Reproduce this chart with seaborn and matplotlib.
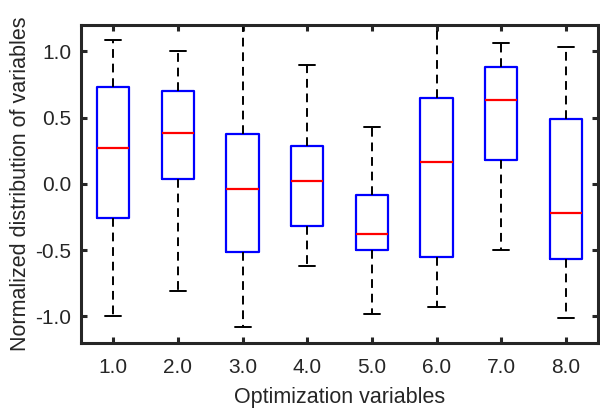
import numpy as np
import pandas as pd
import matplotlib
matplotlib.use("Agg")
import matplotlib.pyplot as plt
import seaborn as sns

# Five-number summaries (one entry per variable)
variables = ["1.0", "2.0", "3.0", "4.0", "5.0", "6.0", "7.0", "8.0"]
whisker_low = [-1.00, -0.81, -1.08, -0.62, -0.98, -0.925, -0.50, -1.015]
q1 = [-0.255, 0.04, -0.51, -0.32, -0.50, -0.55, 0.18, -0.565]
median = [0.27, 0.385, -0.035, 0.02, -0.38, 0.165, 0.63, -0.22]
q3 = [0.735, 0.70, 0.38, 0.29, -0.08, 0.65, 0.885, 0.49]
whisker_high = [1.09, 1.00, 1.30, 0.895, 0.43, 1.30, 1.06, 1.03]

rows = []
for i, v in enumerate(variables):
    for val in (whisker_low[i], q1[i], median[i], q3[i], whisker_high[i]):
        rows.append({"variable": v, "value": val})
df = pd.DataFrame(rows)

sns.set_style("ticks")
plt.rcParams["font.family"] = ["Liberation Sans", "DejaVu Sans"]
plt.rcParams["axes.unicode_minus"] = False

dark = "#262626"
fig = plt.figure(figsize=(6.0, 4.12), dpi=100)
ax = fig.add_axes([0.135, 0.1675, 0.862, 0.772])

sns.boxplot(data=df, x="variable", y="value", order=variables, ax=ax,
            width=0.5, fill=False, whis=(0, 100), showfliers=False,
            linewidth=1.3,
            boxprops=dict(color="blue", linewidth=1.6),
            medianprops=dict(color="red", linewidth=1.6),
            whiskerprops=dict(color="black", linewidth=1.4, linestyle=(0, (4.5, 3))),
            capprops=dict(color="black", linewidth=1.4))

ax.set_xlim(-0.5, 7.5)
ax.set_ylim(-1.2, 1.2)
ax.set_yticks([-1.0, -0.5, 0.0, 0.5, 1.0])
ax.set_yticklabels(["-1.0", "-0.5", "0.0", "0.5", "1.0"])

for side in ["left", "right", "top", "bottom"]:
    ax.spines[side].set_visible(True)
    ax.spines[side].set_color(dark)
    ax.spines[side].set_linewidth(2.2)

ax.tick_params(direction="in", length=4, width=2.2, color=dark,
               top=True, right=True, labelsize=15, labelcolor=dark)
ax.tick_params(axis="x", pad=11)
ax.tick_params(axis="y", pad=7)
ax.set_xlabel("Optimization variables", fontsize=15.5, color=dark, labelpad=7)
ax.set_ylabel("Normalized distribution of variables", fontsize=15.5, color=dark, labelpad=3)

fig.savefig("out.png", dpi=100)
